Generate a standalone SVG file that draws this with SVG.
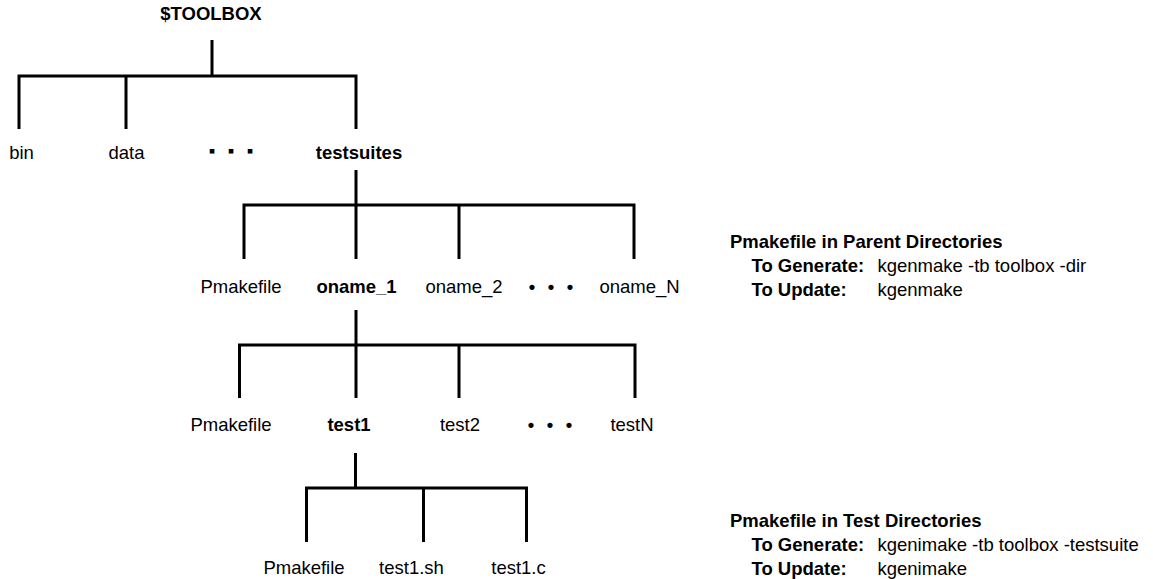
<svg xmlns="http://www.w3.org/2000/svg" width="1153" height="579" viewBox="0 0 1153 579">
<style>
text{font-family:"Liberation Sans",Arial,sans-serif;font-size:18.5px;fill:#000}
.b{font-weight:bold}
.c{text-anchor:middle}
.ln{fill:none;stroke:#000;stroke-width:3;stroke-linejoin:miter;stroke-linecap:butt}
.dot{font-weight:bold;text-anchor:middle}
</style>
<rect width="1153" height="579" fill="#fff"/>
<g id="connectors">
<path class="ln" d="M212 40V76M19 129V76H356V129M126 76V129"/>
<path class="ln" d="M356 170V205M244 259V205H634V259M356 205V259M459 205V259"/>
<path class="ln" d="M356 310V345M239.5 398V345H635V398M356 345V398M459 345V398"/>
<path class="ln" d="M355.5 453V488M306.5 542V488H526.5V542M423.5 488V542"/>
</g>
<g id="toolbox"><text class="b c" x="211" y="20" font-size="17.5">$TOOLBOX</text></g>
<g id="bin"><text class="c" x="21.5" y="159">bin</text></g>
<g id="data"><text class="c" x="126.5" y="159">data</text></g>
<g id="ellipsis1"><text class="dot" x="212 231 250" y="157" font-size="22">▪▪▪</text></g>
<g id="testsuites"><text class="b c" x="359" y="159">testsuites</text></g>
<g id="pmakefile1"><text class="c" x="241" y="293">Pmakefile</text></g>
<g id="oname_1"><text class="b c" x="356.5" y="293">oname_1</text></g>
<g id="oname_2"><text class="c" x="464" y="293">oname_2</text></g>
<g id="ellipsis2"><text class="dot" x="532 551 570" y="293">•••</text></g>
<g id="oname_N"><text class="c" x="639.5" y="293">oname_N</text></g>
<g id="pmakefile2"><text class="c" x="231" y="431">Pmakefile</text></g>
<g id="test1"><text class="b c" x="349" y="431">test1</text></g>
<g id="test2"><text class="c" x="460" y="431">test2</text></g>
<g id="ellipsis3"><text class="dot" x="531 550 569" y="431">•••</text></g>
<g id="testN"><text class="c" x="632" y="431">testN</text></g>
<g id="pmakefile3"><text class="c" x="304" y="574">Pmakefile</text></g>
<g id="test1sh"><text class="c" x="411.5" y="574">test1.sh</text></g>
<g id="test1c"><text class="c" x="518.5" y="574">test1.c</text></g>
<g id="note-parent">
<text class="b" x="730" y="248">Pmakefile in Parent Directories</text>
<text class="b" x="751.5" y="272">To Generate:</text>
<text x="877.5" y="272">kgenmake -tb toolbox -dir</text>
<text class="b" x="751.5" y="296">To Update:</text>
<text x="877.5" y="296">kgenmake</text>
</g>
<g id="note-test">
<text class="b" x="730" y="527">Pmakefile in Test Directories</text>
<text class="b" x="751.5" y="551">To Generate:</text>
<text x="877.5" y="551">kgenimake -tb toolbox -testsuite</text>
<text class="b" x="751.5" y="575">To Update:</text>
<text x="877.5" y="575">kgenimake</text>
</g>
</svg>
